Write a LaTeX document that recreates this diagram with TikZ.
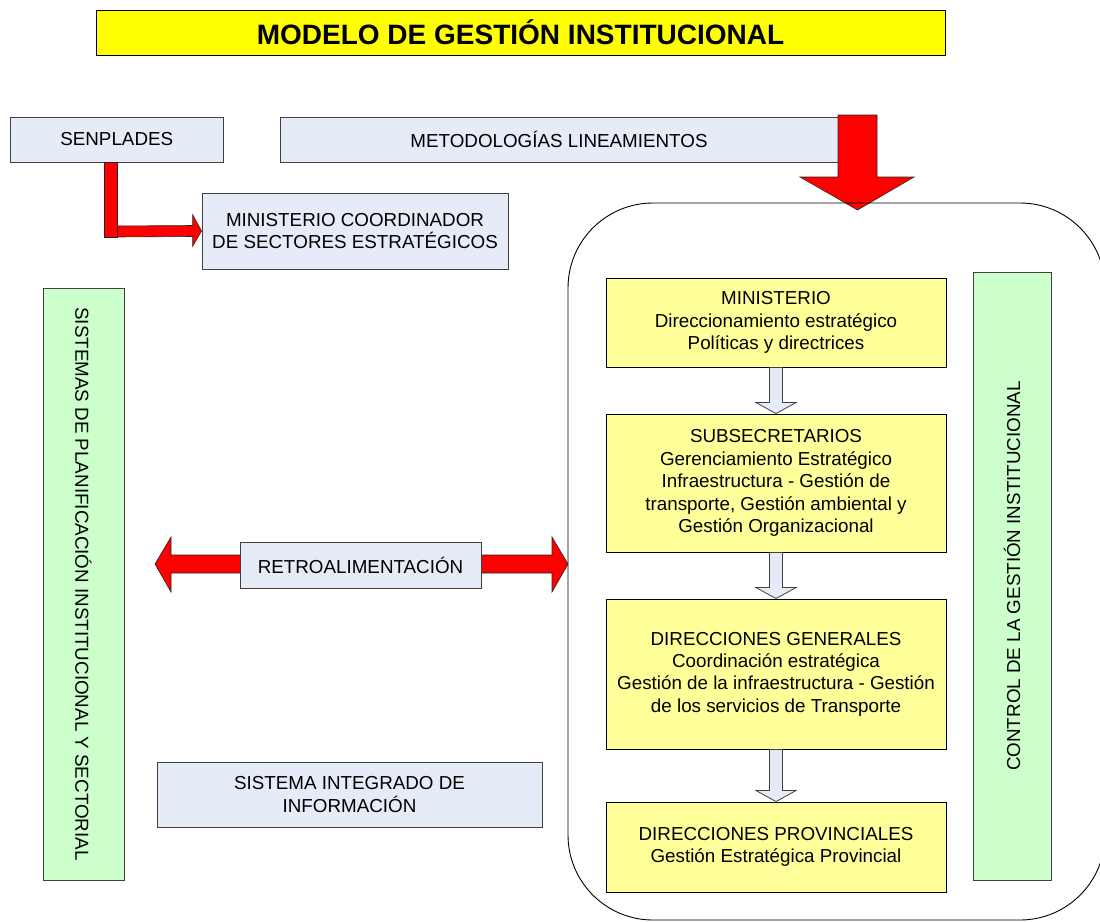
\documentclass[tikz,border=0pt]{standalone}
\usepackage{fontspec}
\setmainfont{Liberation Sans}
\usetikzlibrary{calc}
\definecolor{boxblue}{RGB}{230,236,247}
\definecolor{boxgreen}{RGB}{204,255,204}
\definecolor{boxyellow}{RGB}{255,255,153}
\definecolor{titleyellow}{RGB}{255,255,0}
\definecolor{edgegray}{RGB}{64,64,64}
\begin{document}
\begin{tikzpicture}[x=1pt,y=-1pt,
  txt/.style={font=\fontsize{18.8}{22.4}\selectfont, align=center, inner sep=0pt, text=black},
  bluebox/.style={txt, draw=edgegray, fill=boxblue, line width=0.9pt},
  greenbox/.style={txt, draw=edgegray, fill=boxgreen, line width=0.9pt},
  yelbox/.style={txt, draw=black, fill=boxyellow, line width=0.9pt},
  redarrow/.style={fill=red, draw=black!85, line width=0.6pt, line join=miter},
  grayarrow/.style={fill=boxblue, draw=edgegray, line width=0.8pt},
]
\useasboundingbox (0,0) rectangle (1100,921);

% title
\node[draw=black, fill=titleyellow, line width=0.9pt, inner sep=0pt,
      minimum width=849pt, minimum height=45pt,
      font=\fontsize{28}{32}\selectfont\bfseries] (title) at (520.5,32.5)
  {MODELO DE GESTIÓN INSTITUCIONAL};

% top boxes
\node[bluebox, minimum width=212.5pt, minimum height=45pt] (senplades) at (116.75,139.5) {SENPLADES};
\node[bluebox, minimum width=558pt, minimum height=45pt] (metod) at (559,139.5) {METODOLOGÍAS LINEAMIENTOS};
\node[bluebox, minimum width=306pt, minimum height=76pt] (mincoord) at (355,231)
  {MINISTERIO COORDINADOR\\DE SECTORES ESTRATÉGICOS};

% L-shaped red arrow from SENPLADES to MINISTERIO COORDINADOR
\coordinate (ltip) at (mincoord.west);
\draw[redarrow] (117,226) -- ($(ltip)+(-9,-5.5)$) -- ($(ltip)+(-9,-16.5)$) -- (ltip)
  -- ($(ltip)+(-9,15.5)$) -- ($(ltip)+(-9,5.5)$) -- (117,237) -- cycle;
\draw[redarrow] ($(senplades.south)+(-12,0)$) rectangle (117,237);

% big red arrow down into container
\coordinate (dtop) at (857.5,115);
\coordinate (dtip) at (857.5,210);
\draw[redarrow] ($(dtop)+(-19.5,0)$) -- ($(dtop)+(19.5,0)$) -- ($(dtip)+(19.5,-33)$)
  -- ($(dtip)+(56.5,-33)$) -- (dtip) -- ($(dtip)+(-57.5,-33)$) -- ($(dtip)+(-19.5,-33)$) -- cycle;

% container
\node[draw=black, line width=0.9pt, rounded corners=85pt, inner sep=0pt,
      minimum width=537pt, minimum height=717pt] (cont) at (836.5,561.5) {};

% left green column
\node[greenbox, minimum width=81pt, minimum height=592pt] (sisplan) at (83.5,584) {};
\node[txt, rotate=-90] (sisplantext) at (sisplan.center)
  {SISTEMAS DE PLANIFICACIÓN INSTITUCIONAL Y SECTORIAL};

% right green column
\node[greenbox, minimum width=78pt, minimum height=608pt] (control) at (1012,576) {};
\node[txt, rotate=90] (controltext) at (control.center)
  {CONTROL DE LA GESTIÓN INSTITUCIONAL};

% retroalimentacion double arrow
\coordinate (rl) at (155,564);
\coordinate (rr) at (568,564);
\draw[redarrow] (rl) -- ($(rl)+(16,-27)$) -- ($(rl)+(16,-9)$) -- ($(rr)+(-16,-9)$) -- ($(rr)+(-16,-27)$)
  -- (rr) -- ($(rr)+(-16,28)$) -- ($(rr)+(-16,9)$) -- ($(rl)+(16,9)$) -- ($(rl)+(16,28)$) -- cycle;
\node[bluebox, minimum width=241pt, minimum height=46pt] (retro) at (360.5,565) {RETROALIMENTACIÓN};

% sistema integrado
\node[bluebox, minimum width=385pt, minimum height=65pt] (sistema) at (349.5,794.5)
  {SISTEMA INTEGRADO DE\\INFORMACIÓN};

% hierarchy boxes
\node[yelbox, minimum width=340pt, minimum height=89pt] (min) at (776,322.5)
  {MINISTERIO\\Direccionamiento estratégico\\Políticas y directrices};
\node[yelbox, minimum width=340pt, minimum height=138pt] (sub) at (776,483)
  {SUBSECRETARIOS\\Gerenciamiento Estratégico\\Infraestructura - Gestión de\\transporte, Gestión ambiental y\\Gestión Organizacional};
\node[yelbox, minimum width=340pt, minimum height=150pt] (dg) at (776,674)
  {DIRECCIONES GENERALES\\Coordinación estratégica\\Gestión de la infraestructura - Gestión\\de los servicios de Transporte};
\node[yelbox, minimum width=340pt, minimum height=90pt] (dp) at (776,847)
  {DIRECCIONES PROVINCIALES\\Gestión Estratégica Provincial};

\foreach \a/\b in {min/sub, sub/dg, dg/dp}{
  \draw[grayarrow] ($(\a.south)+(-6.5,0)$) -- ($(\a.south)+(6.5,0)$) -- ($(\b.north)+(6.5,-11)$)
    -- ($(\b.north)+(20,-11)$) -- (\b.north) -- ($(\b.north)+(-20,-11)$) -- ($(\b.north)+(-6.5,-11)$) -- cycle;
}
\end{tikzpicture}
\end{document}
